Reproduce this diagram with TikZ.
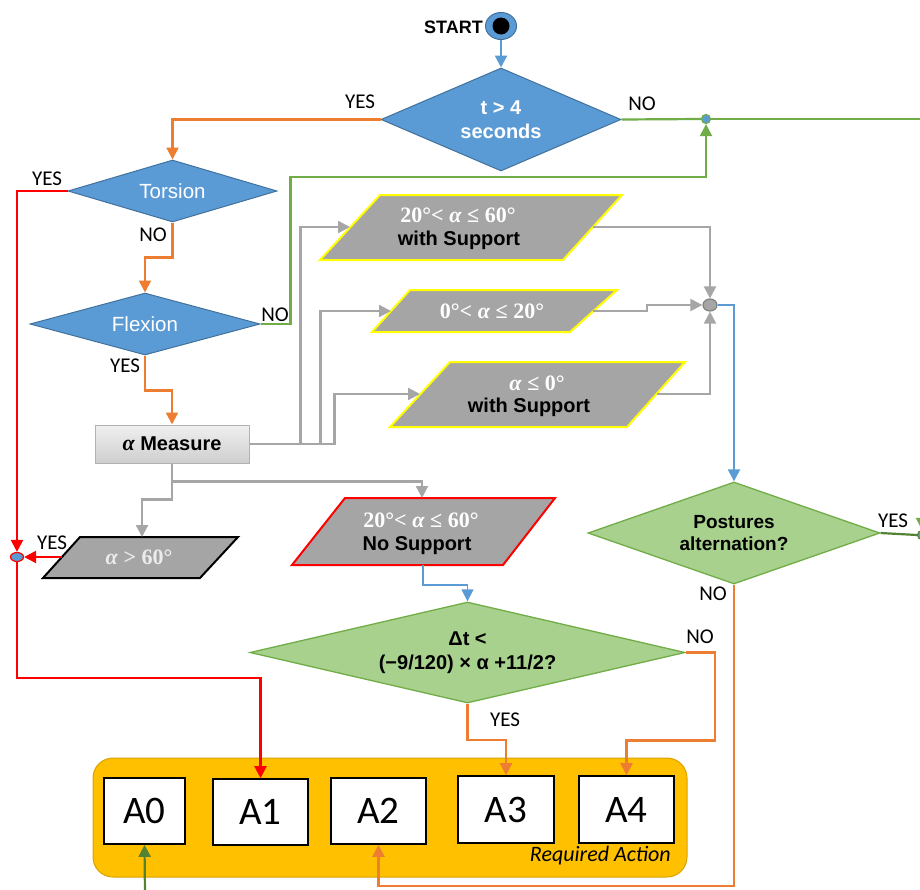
\documentclass[tikz,border=0pt]{standalone}
\usepackage{fontspec}
\setmainfont{Liberation Sans}
\newfontfamily\calib{Carlito}
\newfontfamily\serifb{Liberation Serif}
\usetikzlibrary{shapes.geometric,arrows.meta,calc}
\definecolor{dblue}{HTML}{5B9BD5}
\definecolor{dblueb}{HTML}{41719C}
\definecolor{orng}{HTML}{ED7D31}
\definecolor{lgreen}{HTML}{70AD47}
\definecolor{dgreen}{HTML}{548235}
\definecolor{gline}{HTML}{A6A6A6}
\definecolor{pfill}{HTML}{A5A5A5}
\definecolor{gfill}{HTML}{A9D18E}
\definecolor{rafill}{HTML}{FFC000}
\definecolor{raborder}{HTML}{D9A300}
\definecolor{yel}{HTML}{FFFF00}
\newcommand{\mathpart}[1]{{\serifb\bfseries\fontsize{22}{24}\selectfont #1}}
\begin{document}
\begin{tikzpicture}[x=1pt,y=-1pt,
  bdec/.style={diamond, inner sep=0pt, draw=dblueb, fill=dblue, line width=1pt, text=white, align=center},
  gdec/.style={diamond, inner sep=0pt, draw=lgreen, fill=gfill, line width=1.3pt, align=center,
     font=\fontsize{19}{22}\selectfont\bfseries},
  lbl/.style={font=\calib\fontsize{21}{24}\selectfont, inner sep=0pt},
  arr/.style={line width=2.2pt, -{Triangle[length=12pt,width=12pt]}},
  plain/.style={line width=2.2pt},
  abox/.style={draw=black, line width=1.6pt, fill=white, inner sep=0pt,
     font=\calib\fontsize{39}{40}\selectfont},
  para/.style={fill=pfill, line width=2pt, line join=miter},
  ptxt/.style={inner sep=0pt, align=center, font=\fontsize{20}{24}\selectfont\bfseries},
  junc/.style={inner sep=0pt, line width=1.2pt}
]
\clip (0,0) rectangle (920,889);

% ---------- Start ----------
\node[font=\fontsize{18}{20}\selectfont\bfseries, anchor=east, inner sep=0pt] (starttxt) at (483,27) {START};
\node[ellipse, draw=dblueb, fill=dblue, minimum width=31pt, minimum height=27pt, line width=1pt, inner sep=0pt] (start) at (501,26) {};
\node[circle, fill=black, minimum size=17pt, inner sep=0pt] (startin) at (501,26) {};

% ---------- Decisions ----------
\node[bdec, aspect=2.33, minimum width=240pt, minimum height=103pt,
      font=\fontsize{20}{24}\selectfont\bfseries] (t4) at (501,119.5) {t > 4\\seconds};
\node[bdec, aspect=3.37, minimum width=209pt, minimum height=62pt,
      font=\fontsize{20.5}{24}\selectfont] (tors) at (172.5,191) {Torsion};
\node[bdec, aspect=3.7, minimum width=230pt, minimum height=62pt,
      font=\fontsize{20.5}{24}\selectfont] (flex) at (145,324) {Flexion};
\node[gdec, aspect=2.86, minimum width=292pt, minimum height=102pt] (post) at (734,533) {Postures\\alternation?};
\node[gdec, aspect=4.3, minimum width=435pt, minimum height=101pt,
      font=\fontsize{20}{24}\selectfont\bfseries] (dt) at (467.5,652.5) {Δt <\\(−9/120) × α +11/2?};

% ---------- alpha measure ----------
\node[draw=gray!60, top color=gray!12, bottom color=gray!38, minimum width=154pt, minimum height=38pt,
      inner sep=0pt, line width=1pt, font=\fontsize{20}{24}\selectfont\bfseries] (meas) at (172,444)
      {{\serifb\itshape\fontsize{22}{24}\selectfont α} Measure};

% ---------- Parallelograms ----------
\draw[para, draw=yel] (380,195) -- (622,195) -- (563,260) -- (320,260) -- cycle;
\node[ptxt, text=white] (p1a) at (458,215) {\mathpart{20°< \textit{α} ≤ 60°}};
\node[ptxt] (p1b) at (459,240) {with Support};
\coordinate (p1in) at (350,227);
\coordinate (p1out) at (593,227);

\draw[para, draw=yel] (410,290) -- (617,290) -- (570,332) -- (372,332) -- cycle;
\node[ptxt, text=white] (p2a) at (492,311) {\mathpart{0°< \textit{α} ≤ 20°}};
\coordinate (p2in) at (391,311);
\coordinate (p2out) at (593,311);

\draw[para, draw=yel] (450,362) -- (685,362) -- (627,427) -- (390,427) -- cycle;
\node[ptxt, text=white] (p3a) at (537,383) {\mathpart{\textit{α} ≤ 0°}};
\node[ptxt] (p3b) at (529,407) {with Support};
\coordinate (p3in) at (420,394);
\coordinate (p3out) at (657,394);

\draw[para, draw=red] (345,498) -- (555,498) -- (503,565) -- (292,565) -- cycle;
\node[ptxt, text=white] (pnsa) at (421,520) {\mathpart{20°< \textit{α} ≤ 60°}};
\node[ptxt] (pnsb) at (417,546) {No Support};
\coordinate (pnstop) at (422,498);
\coordinate (pnsbot) at (423,565);

\draw[para, draw=black] (80,537) -- (238,537) -- (200,578) -- (43,578) -- cycle;
\node[ptxt, text=gray!15] (p60a) at (139,557) {\mathpart{\textit{α} > 60°}};
\coordinate (p60top) at (142,537);
\coordinate (p60in) at (62,557);

% ---------- Junctions ----------
\node[circle, draw=lgreen, fill=dblue, minimum size=9pt, junc] (J1) at (706,119) {};
\node[ellipse, draw=gray, fill=gline, minimum width=14pt, minimum height=12pt, junc] (Jg) at (710,305) {};
\node[ellipse, draw=red, fill=dblue, minimum width=13pt, minimum height=9pt, junc] (Jred) at (17,557) {};
\node[circle, draw=dgreen, fill=dblue, minimum size=9pt, junc] (Jr) at (922,535) {};
\coordinate (gend) at (930,119);
\coordinate (gtop) at (922,420);
\coordinate (gbot) at (145,895);

% ---------- Required action ----------
\node[draw=raborder, fill=rafill, rounded corners=20pt, minimum width=594pt, minimum height=119pt,
      line width=1pt, inner sep=0pt] (ra) at (390,817.5) {};
\node[abox, minimum width=81pt, minimum height=66pt] (A0) at (144.5,811) {A0};
\node[abox, minimum width=95pt, minimum height=66pt] (A1) at (260.5,812) {A1};
\node[abox, minimum width=95pt, minimum height=66pt] (A2) at (378.5,811) {A2};
\node[abox, minimum width=96pt, minimum height=67pt] (A3) at (506,809.5) {A3};
\node[abox, minimum width=95pt, minimum height=67pt] (A4) at (626.5,809.5) {A4};
\node[anchor=east, inner sep=0pt, font=\calib\itshape\fontsize{22}{24}\selectfont] (ratxt) at (671,856) {Required Action};

% ---------- Connectors ----------
\draw[arr, dblue] (start) -- (t4.north);
\draw[arr, orng] (t4.west) -| (tors.north);
\draw[plain, lgreen] (t4.east) -- (J1.west);
\draw[plain, lgreen] (J1.east) -- (gend);
\draw[arr, red] (tors.west) -| (Jred.north);
\draw[arr, orng] (tors.south) -- ++(0,35) -| (flex.north);
\draw[arr, lgreen] (flex.east) -- ++(30,0) |- ++(0,-147) -| (J1.south);
\draw[arr, orng] (flex.south) -- ++(0,35) -| (meas.north);

\draw[arr, gline] (meas.east) -- ++(51,0) |- (p1in);
\draw[arr, gline] (meas.east) -- ++(71,0) |- (p2in);
\draw[arr, gline] (meas.east) -- ++(85,0) |- (p3in);
\draw[arr, gline] (p1out) -| (Jg.north);
\draw[arr, gline] (p2out) -- ++(54,0) -- ++(0,-6) -- (Jg.west);
\draw[arr, gline] (p3out) -| (Jg.south);
\draw[arr, dblue] (Jg.east) -| (post.north);

\draw[arr, gline] (meas.south) -- ++(0,18) -| (pnstop);
\draw[arr, gline] (meas.south) -- ++(0,36) -| (p60top);
\draw[arr, red] (p60in) -- (Jred.east);
\draw[arr, red] (Jred.south) -- ++(0,115.5) -| (A1.north);

\draw[line width=1.3pt, dblue, -{Triangle[length=12pt,width=12pt]}] (pnsbot) -- ++(0,20) -| (dt.north);
\draw[arr, orng] (dt.south) -- ++(0,36) -| (A3.north);
\draw[arr, orng] (dt.east) -- ++(29,0) -- ++(0,88) -| (A4.north);

\draw[plain, dgreen] (post.east) -- (Jr.west);
\draw[arr, lgreen] (gtop) -- (Jr.north);
\draw[arr, orng] (post.south) -- ++(0,301) -| (A2.south);
\draw[arr, dgreen] (gbot) -- (A0.south);

% ---------- Labels ----------
\node[lbl] (l1) at (360,102) {YES};
\node[lbl] (l2) at (642,104) {NO};
\node[lbl] (l3) at (47,179) {YES};
\node[lbl] (l4) at (153,235) {NO};
\node[lbl] (l5) at (275,315) {NO};
\node[lbl] (l6) at (125,366) {YES};
\node[lbl] (l7) at (52,543) {YES};
\node[lbl] (l8) at (505,720) {YES};
\node[lbl] (l9) at (700,637) {NO};
\node[lbl] (l10) at (893,521) {YES};
\node[lbl] (l11) at (713,594) {NO};
\end{tikzpicture}
\end{document}
